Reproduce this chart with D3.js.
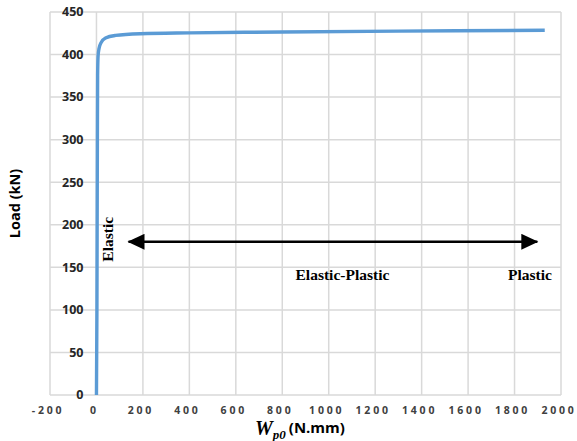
<!DOCTYPE html>
<html>
<head>
<meta charset="utf-8">
<script src="https://cdn.jsdelivr.net/npm/d3@7"></script>
<style>
  body { margin: 0; background: #fff; }
  svg { display: block; }
</style>
</head>
<body>
<div id="chart"></div>
<script>
// Load vs plastic work curve
const workValues = [0, 2, 3, 4, 5, 7, 11, 20, 39, 82, 190, 400, 800, 1300, 1930];
const loadValues = [0, 100, 200, 300, 375, 398, 407, 414, 419.5, 422.5, 424.5, 425.5, 426.5, 427.5, 428.5];
const xTicks = [-200, 0, 200, 400, 600, 800, 1000, 1200, 1400, 1600, 1800, 2000];
const yTicks = [0, 50, 100, 150, 200, 250, 300, 350, 400, 450];

// annotation anchors in data units
const arrowFrom = [138, 180];
const arrowTo = [1898, 180];
const labels = [
    { text: 'Elastic', x: 73, y: 183, rotate: true, anchor: 'middle' },
    { text: 'Elastic-Plastic', x: 1059, y: 135, anchor: 'middle' },
    { text: 'Plastic', x: 1772, y: 135, anchor: 'start' }
];

const width = 577, height = 441;
const margin = { top: 12, right: 16, bottom: 46, left: 50 };

const svg = d3.select('#chart').append('svg')
    .attr('width', width)
    .attr('height', height);

const x = d3.scaleLinear().domain([-200, 2000]).range([margin.left, width - margin.right]);
const y = d3.scaleLinear().domain([0, 450]).range([height - margin.bottom, margin.top]);

svg.append('defs').append('marker')
    .attr('id', 'head')
    .attr('markerUnits', 'userSpaceOnUse')
    .attr('markerWidth', 18)
    .attr('markerHeight', 16)
    .attr('refX', 16)
    .attr('refY', 8)
    .attr('orient', 'auto-start-reverse')
    .append('path')
    .attr('d', 'M0,0 L17,8 L0,16 Z')
    .attr('fill', '#000');

// Gridlines
const grid = svg.append('g');
grid.selectAll('.vg').data(xTicks).enter().append('line')
    .attr('x1', d => x(d)).attr('x2', d => x(d))
    .attr('y1', y(0)).attr('y2', y(450))
    .attr('stroke', '#d9d9d9').attr('stroke-width', 1.5);
grid.selectAll('.hg').data(yTicks).enter().append('line')
    .attr('x1', x(-200)).attr('x2', x(2000))
    .attr('y1', d => y(d)).attr('y2', d => y(d))
    .attr('stroke', '#d9d9d9').attr('stroke-width', 1.5);

// Y tick labels sit left of the x=0 crossing
svg.append('g').selectAll('text').data(yTicks).enter().append('text')
    .attr('x', x(0) - 13)
    .attr('y', d => y(d))
    .attr('dy', '0.35em')
    .attr('text-anchor', 'end')
    .attr('font-family', 'Open Sans, sans-serif')
    .attr('font-weight', 'bold')
    .attr('font-size', 12.5)
    .attr('fill', '#262626')
    .text(d => d);

// X tick labels (letter-spaced, nudged left for trailing spacing)
svg.append('g').selectAll('text').data(xTicks).enter().append('text')
    .attr('x', d => x(d) - 2)
    .attr('y', y(0) + 19)
    .attr('text-anchor', 'middle')
    .attr('font-family', 'Open Sans, sans-serif')
    .attr('font-weight', 'bold')
    .attr('font-size', 10.5)
    .attr('letter-spacing', 2.8)
    .attr('fill', '#404040')
    .text(d => d);

// Curve
const line = d3.line()
    .x(d => x(d))
    .y((d, i) => y(loadValues[i]))
    .curve(d3.curveMonotoneX);

svg.append('path')
    .datum(workValues)
    .attr('d', line)
    .attr('fill', 'none')
    .attr('stroke', '#5b9bd5')
    .attr('stroke-width', 3.4)
    .attr('stroke-linejoin', 'round');

// Arrow
svg.append('line')
    .attr('x1', x(arrowFrom[0])).attr('y1', y(arrowFrom[1]))
    .attr('x2', x(arrowTo[0])).attr('y2', y(arrowTo[1]))
    .attr('stroke', '#000')
    .attr('stroke-width', 2.5)
    .attr('marker-start', 'url(#head)')
    .attr('marker-end', 'url(#head)');

// Region labels
labels.forEach(l => {
    const t = svg.append('text')
        .attr('font-family', 'Liberation Serif, Times New Roman, serif')
        .attr('font-weight', 'bold')
        .attr('font-size', 15.5)
        .attr('fill', '#000')
        .attr('text-anchor', l.anchor)
        .text(l.text);
    if (l.rotate) {
        t.attr('transform', `translate(${x(l.x)},${y(l.y)}) rotate(-90)`);
    } else {
        t.attr('x', x(l.x)).attr('y', y(l.y));
    }
});

// Axis titles
svg.append('text')
    .attr('transform', `translate(20,${(margin.top + height - margin.bottom) / 2}) rotate(-90)`)
    .attr('text-anchor', 'middle')
    .attr('font-family', 'Open Sans, sans-serif')
    .attr('font-weight', 'bold')
    .attr('font-size', 14.5)
    .attr('fill', '#000')
    .text('Load (kN)');

const xt = svg.append('text')
    .attr('x', 255)
    .attr('y', 435)
    .attr('fill', '#000');
xt.append('tspan')
    .attr('font-family', 'Liberation Serif, serif')
    .attr('font-style', 'italic')
    .attr('font-weight', 'bold')
    .attr('font-size', 20)
    .text('W');
xt.append('tspan')
    .attr('font-family', 'Liberation Serif, serif')
    .attr('font-style', 'italic')
    .attr('font-weight', 'bold')
    .attr('font-size', 13)
    .attr('dy', 4)
    .text('p0');
xt.append('tspan')
    .attr('font-family', 'Open Sans, sans-serif')
    .attr('font-weight', 'bold')
    .attr('font-size', 15)
    .attr('dy', -6)
    .attr('dx', 3)
    .text('(N.mm)');
</script>
</body>
</html>
